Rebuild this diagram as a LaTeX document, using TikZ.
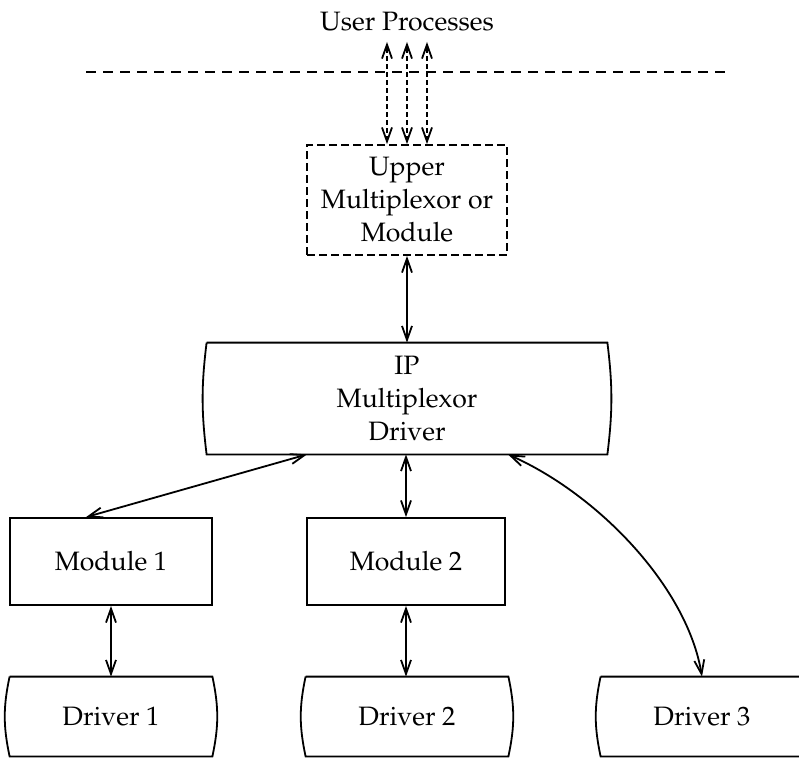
\documentclass[tikz,border=0pt]{standalone}
\usepackage[T1]{fontenc}
\usepackage{mathpazo}
\usepackage{tikz}
\usetikzlibrary{arrows.meta}
\tikzstyle{Line}=[line width=0.9pt,line join=miter]
\tikzstyle{Txt}=[font=\fontsize{13.3}{16.5}\selectfont,align=center,inner sep=0pt]
\tikzstyle{PlainBox}=[Txt,Line,draw,rectangle]
\tikzstyle{DashBox}=[Txt,Line,draw,dash pattern=on 4pt off 2pt]
\tikzstyle{CurveBox}=[Txt,rectangle]
\tikzstyle{Link}=[Line,{Straight Barb[length=7pt,width=5pt]}-{Straight Barb[length=7pt,width=5pt]}]
\tikzstyle{DashLink}=[Link,dash pattern=on 2.5pt off 1.5pt]
% box with sides bowed outwards
\newcommand{\BulgeBox}[2]{\draw[Line](#1.north west)--(#1.north east)
  to[bend left=#2](#1.south east)--(#1.south west) to[bend left=#2](#1.north west);}

\begin{document}
\begin{tikzpicture}[x=0.5pt,y=-0.5pt]
        \useasboundingbox(0,0)rectangle(799,757);
        \node[Txt](user)at(407,22){User Processes};
        \coordinate(sepL)at(86,72);
        \coordinate(sepR)at(730,72);
        \draw[Line,dash pattern=on 5pt off 3.5pt](sepL)--(sepR);
        \node[DashBox,minimum width=100pt,minimum height=55pt](upper)at(407,200){Upper\\Multiplexor or\\Module};
        \node[CurveBox,minimum width=200pt,minimum height=55.5pt](ip)at(407,398.5){IP\\Multiplexor\\Driver};
        \BulgeBox{ip}{7}
        \node[PlainBox,minimum width=101pt,minimum height=43.5pt](mod1)at(111,561.5){Module 1};
        \node[PlainBox,minimum width=99pt,minimum height=43.5pt](mod2)at(406,561.5){Module 2};
        \node[CurveBox,minimum width=101pt,minimum height=39.5pt](drv1)at(111,716.5){Driver 1};
        \node[CurveBox,minimum width=101pt,minimum height=39.5pt](drv2)at(407,716.5){Driver 2};
        \node[CurveBox,minimum width=101pt,minimum height=39.5pt](drv3)at(702,716.5){Driver 3};
        \foreach \d in {drv1,drv2,drv3}{\BulgeBox{\d}{12}}
        \foreach \dx in {-10,0,10}
          \draw[DashLink,shorten >=5pt]([xshift=\dx pt]upper.north)--([xshift=\dx pt]upper.north|-user.south);
        \draw[Link](upper.south)--(ip.north);
        \draw[Link]([xshift=-12.5pt]mod1.north)--([xshift=-50pt]ip.south);
        \draw[Link](mod2.north)--(mod2.north|-ip.south);
        \draw[Link](mod1.south)--(drv1.north);
        \draw[Link](mod2.south)--(mod2.south|-drv2.north);
        \draw[Link]([xshift=50.5pt]ip.south) .. controls +(90,40) and +(-15,-90) .. (drv3.north);
    \end{tikzpicture}
\end{document}
